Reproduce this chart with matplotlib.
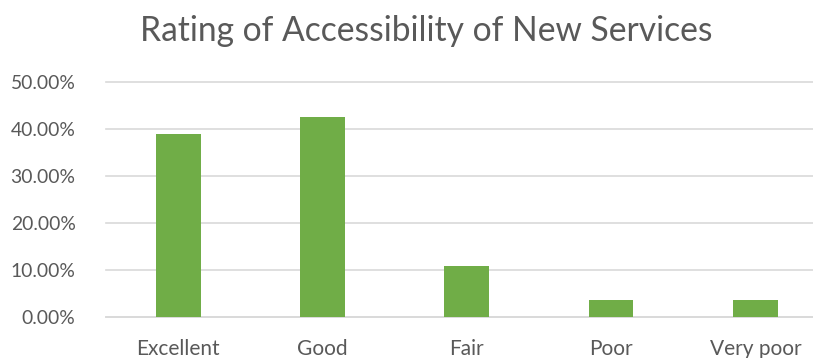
import matplotlib.pyplot as plt
from matplotlib.ticker import PercentFormatter

categories = ["Excellent", "Good", "Fair", "Poor", "Very poor"]
ratings = [0.389, 0.426, 0.109, 0.037, 0.037]
y_ticks = [0.0, 0.1, 0.2, 0.3, 0.4, 0.5]

plt.rcParams['font.family'] = ['Lato', 'DejaVu Sans']
text_col = "#595959"
grid_col = "#d9d9d9"

fig = plt.figure(figsize=(8.13, 3.58), dpi=100)
ax = fig.add_axes([106 / 813, 41 / 358, 721.5 / 813, 235 / 358])

x = range(len(categories))
ax.bar(x, ratings, width=0.31, color="#70AD47", zorder=3)

ax.set_xlim(-0.5, len(categories) - 0.5)
ax.set_ylim(0, 0.5)
ax.set_yticks(y_ticks)
ax.yaxis.set_major_formatter(PercentFormatter(1.0, decimals=2))
ax.set_xticks(list(x))
ax.set_xticklabels(categories)

ax.grid(axis="y", color=grid_col, linewidth=1.2, zorder=0)
for line in ax.get_ygridlines():
    line.set_clip_on(False)
for s in ["top", "right", "left"]:
    ax.spines[s].set_visible(False)
ax.spines["bottom"].set_color(grid_col)
ax.spines["bottom"].set_linewidth(1.2)

ax.tick_params(axis="both", length=0, colors=text_col)
ax.tick_params(axis="y", pad=22, labelsize=13.9)
ax.tick_params(axis="x", pad=16, labelsize=15)

fig.text(426 / 813, 1 - 31 / 358, "Rating of Accessibility of New Services",
         ha="center", va="center", fontsize=24.2, color=text_col)

fig.savefig("out.png", dpi=100)
